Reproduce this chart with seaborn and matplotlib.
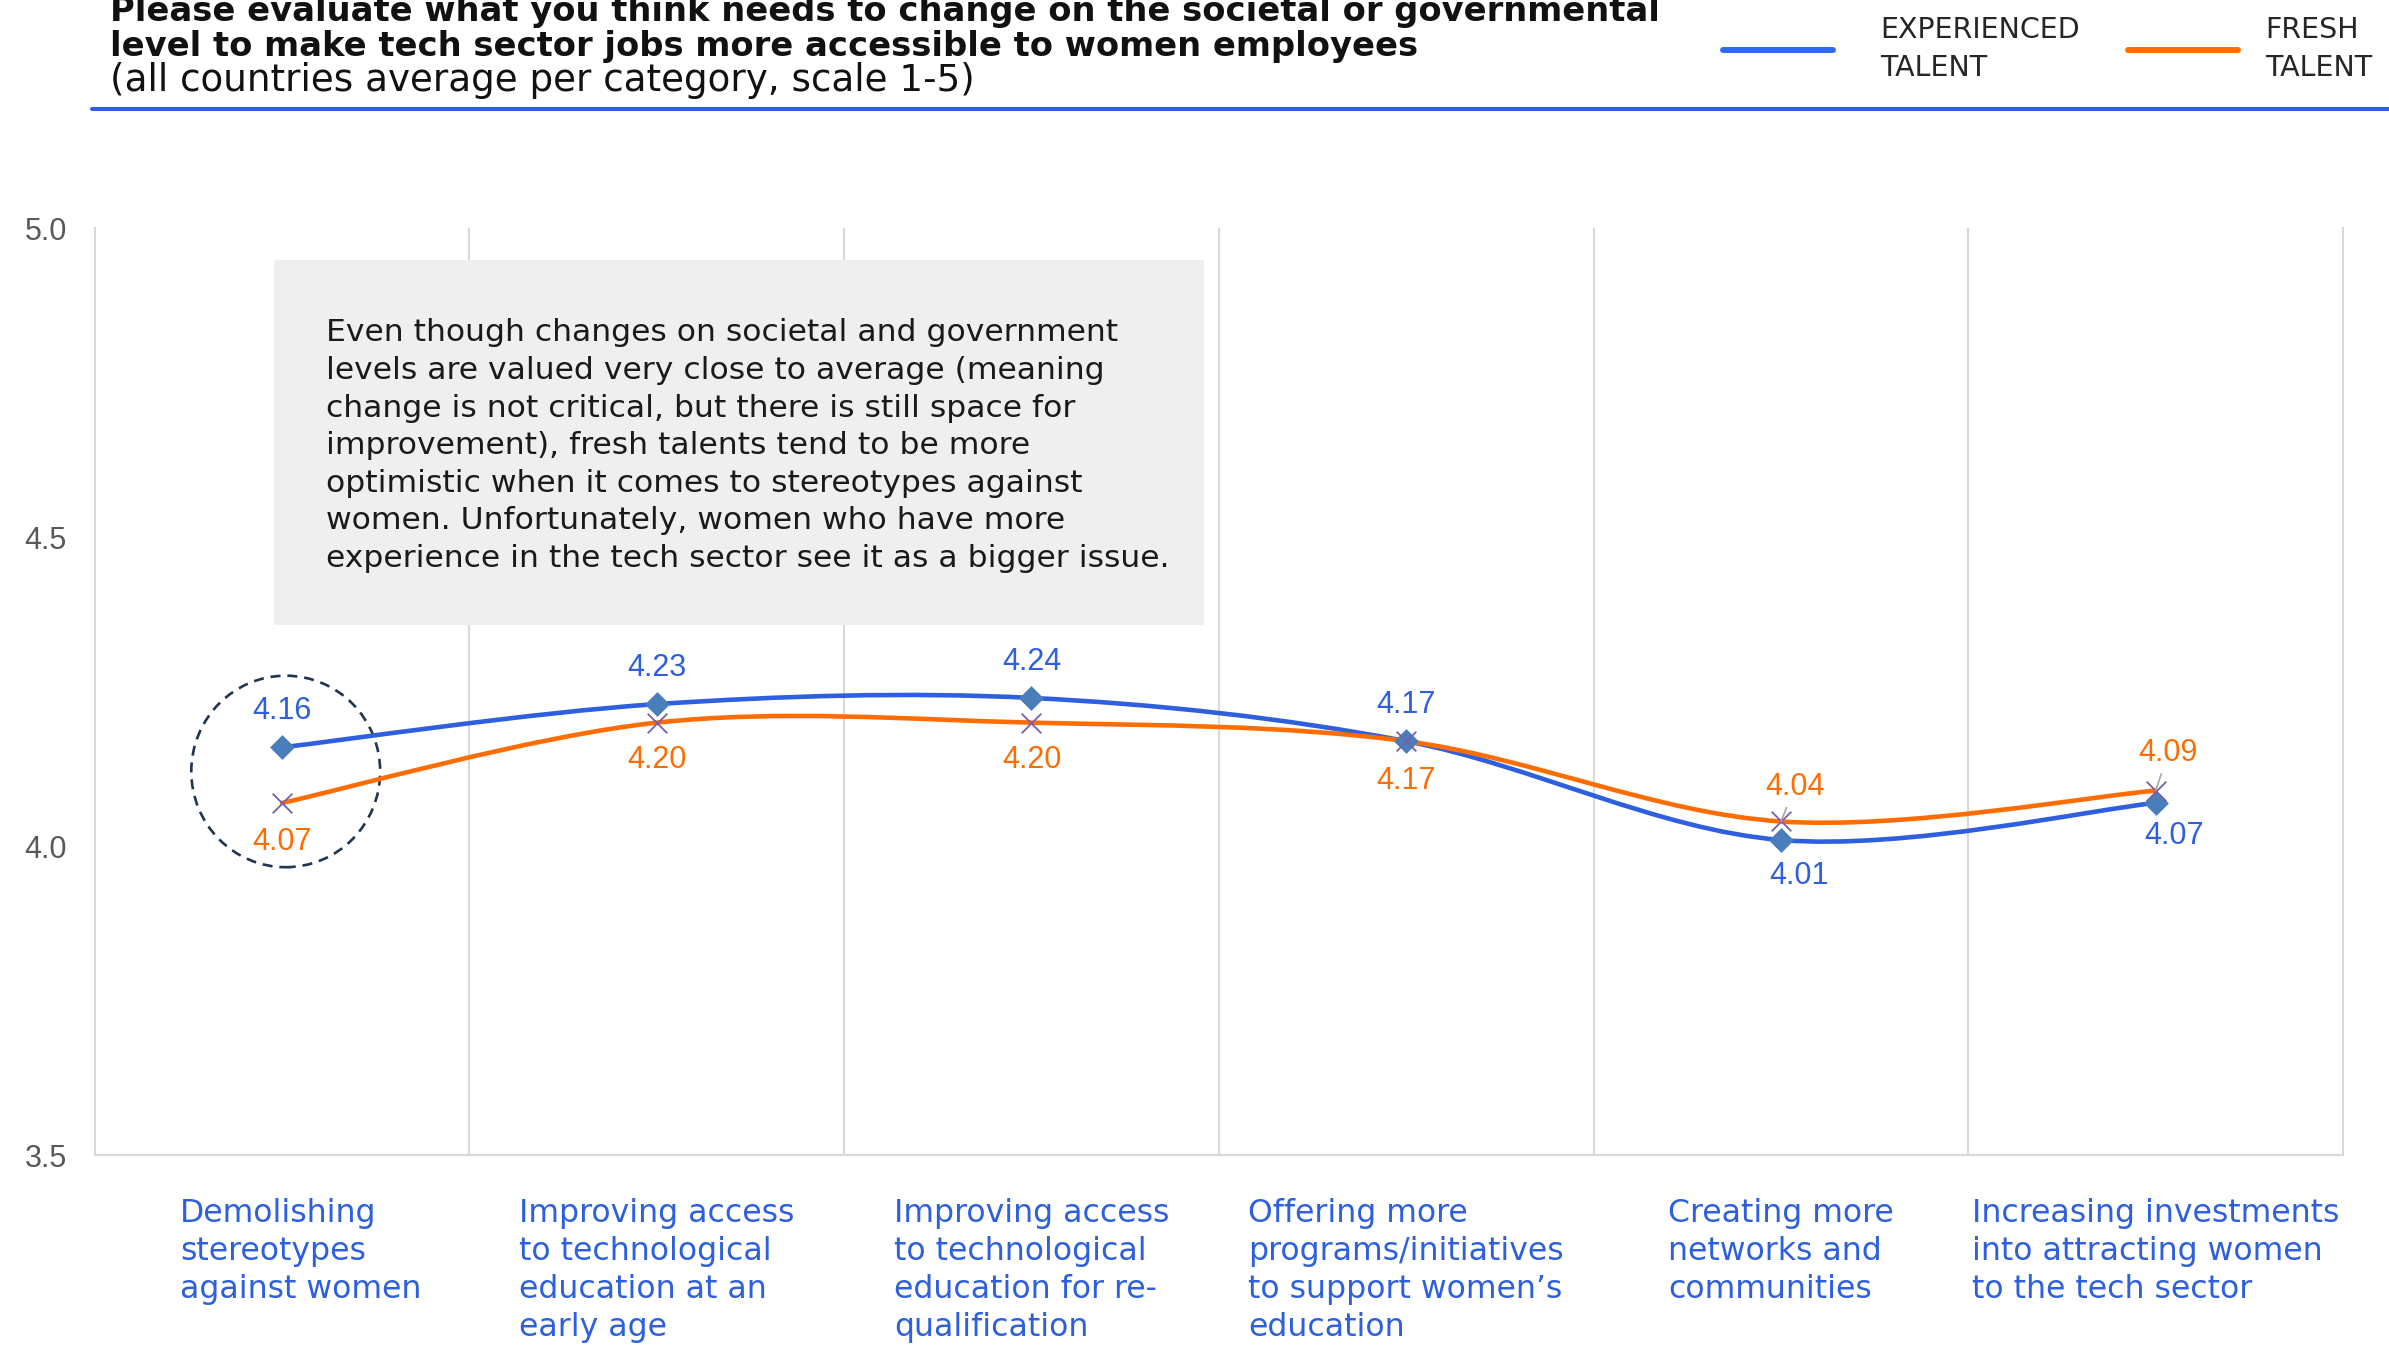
import numpy as np
import pandas as pd
import seaborn as sns
import matplotlib.pyplot as plt
import matplotlib.transforms as mtransforms
from matplotlib.path import Path
from matplotlib.patches import PathPatch, Rectangle, Ellipse
from matplotlib.lines import Line2D

# ---- data -------------------------------------------------------------
categories = [
    "Demolishing\nstereotypes\nagainst women",
    "Improving access\nto technological\neducation at an\nearly age",
    "Improving access\nto technological\neducation for re-\nqualification",
    "Offering more\nprograms/initiatives\nto support women\u2019s\neducation",
    "Creating more\nnetworks and\ncommunities",
    "Increasing investments\ninto attracting women\nto the tech sector",
]
experienced = [4.16, 4.23, 4.24, 4.17, 4.01, 4.07]
fresh = [4.07, 4.20, 4.20, 4.17, 4.04, 4.09]
y_ticks = [3.5, 4.0, 4.5, 5.0]
series_names = ["EXPERIENCED\nTALENT", "FRESH\nTALENT"]

title_lines = [
    "Please evaluate what you think needs to change on the societal or governmental",
    "level to make tech sector jobs more accessible to women employees",
]
subtitle = "(all countries average per category, scale 1-5)"
note = (
    "Even though changes on societal and government\n"
    "levels are valued very close to average (meaning\n"
    "change is not critical, but there is still space for\n"
    "improvement), fresh talents tend to be more\n"
    "optimistic when it comes to stereotypes against\n"
    "women. Unfortunately, women who have more\n"
    "experience in the tech sector see it as a bigger issue."
)

# label offsets (points) relative to each marker
exp_offsets = [(0, 26), (0, 26), (0, 26), (0, 26), (13, -26), (13, -24)]
fresh_offsets = [(0, -28), (0, -27), (0, -27), (0, -29), (10, 25), (9, 27)]
leader = [False, False, False, False, True, True]

# ---- style ------------------------------------------------------------
BLUE = "#2D5FDE"
LEGEND_BLUE = "#2E6BEB"
ORANGE = "#FF6D01"
DIAMOND = "#4A7EBB"
CROSS = "#7B5EA7"
GRID = "#D9D9D9"
TICK_GRAY = "#595959"
NUM_FONT = ["Liberation Sans", "DejaVu Sans"]

sns.set_theme(style="white")
plt.rcParams["font.family"] = ["DejaVu Sans"]

df = pd.DataFrame({
    "pos": np.arange(len(categories)),
    "experienced": experienced,
    "fresh": fresh,
})

fig = plt.figure(figsize=(23.89, 13.47), dpi=100)
ax = fig.add_axes([0.0396, 0.1425, 0.9412, 0.6879])


def smooth_path(xs, ys):
    """Cubic Bezier path through the points (smoothed line)."""
    pts = np.column_stack([xs, ys]).astype(float)
    n = len(pts)
    verts = [pts[0]]
    codes = [Path.MOVETO]
    for i in range(n - 1):
        p0 = pts[max(i - 1, 0)]
        p1 = pts[i]
        p2 = pts[i + 1]
        p3 = pts[min(i + 2, n - 1)]
        verts += [p1 + (p2 - p0) / 6.0, p2 - (p3 - p1) / 6.0, p2]
        codes += [Path.CURVE4] * 3
    return Path(verts, codes)


# smoothed lines
ax.add_patch(PathPatch(smooth_path(df["pos"], df["experienced"]), fill=False,
                       edgecolor=BLUE, lw=3.3, capstyle="round", zorder=3))
ax.add_patch(PathPatch(smooth_path(df["pos"], df["fresh"]), fill=False,
                       edgecolor=ORANGE, lw=3.3, capstyle="round", zorder=3))

# markers
sns.scatterplot(data=df, x="pos", y="experienced", marker="D", s=160,
                color=DIAMOND, linewidth=0, zorder=4, ax=ax, legend=False)
sns.scatterplot(data=df, x="pos", y="fresh", marker="x", s=200,
                color=CROSS, linewidth=1.3, zorder=5, ax=ax, legend=False)

# data labels
for i, v in enumerate(df["experienced"]):
    dx, dy = exp_offsets[i]
    ax.annotate(f"{v:.2f}", (i, v), xytext=(dx, dy), textcoords="offset points",
                ha="center", va="center", fontsize=22, color=BLUE,
                family=NUM_FONT, zorder=6)
for i, v in enumerate(df["fresh"]):
    dx, dy = fresh_offsets[i]
    kw = {}
    if leader[i]:
        kw["arrowprops"] = dict(arrowstyle="-", color="#A6A6A6", lw=1.2,
                                shrinkA=2, shrinkB=0)
    ax.annotate(f"{v:.2f}", (i, v), xytext=(dx, dy), textcoords="offset points",
                ha="center", va="center", fontsize=22, color=ORANGE,
                family=NUM_FONT, zorder=6, **kw)

# dashed highlight circle around the first category
ax.add_patch(Ellipse((0.01, 4.121), 0.504, 0.310, fill=False,
                     edgecolor="#1F3550", lw=1.9, ls=(0, (3.8, 2.6)), zorder=2))

# axes
ax.set_xlim(-0.5, len(categories) - 0.5)
ax.set_ylim(3.5, 5.0)
ax.set_xlabel("")
ax.set_ylabel("")
ax.set_xticks(df["pos"], categories, fontsize=22.7, color=BLUE,
              multialignment="left", linespacing=1.29)
ax.set_xticks(np.arange(0.5, len(categories) - 1, 1.0), minor=True)
ax.set_yticks(y_ticks, [f"{t:.1f}" for t in y_ticks])
for lab in ax.get_yticklabels():
    lab.set_family(NUM_FONT)
    lab.set_fontsize(22)
    lab.set_color(TICK_GRAY)
ax.tick_params(axis="x", which="both", length=0, pad=31)
ax.tick_params(axis="y", length=0, pad=20)
first = ax.get_xticklabels()[0]
first.set_transform(first.get_transform() +
                    mtransforms.ScaledTranslation(0.19, 0, fig.dpi_scale_trans))
ax.grid(False)
ax.grid(True, axis="x", which="minor", color=GRID, lw=1.5)
for side in ("left", "bottom", "right"):
    ax.spines[side].set_color(GRID)
    ax.spines[side].set_linewidth(1.5)
ax.spines["top"].set_visible(False)

# commentary box
ax.add_patch(Rectangle((0.0799, 0.5724), 0.4133, 0.3931, transform=ax.transAxes,
                       facecolor="#EFEFEF", edgecolor="none", zorder=1))
ax.text(0.103, 0.7656, note, transform=ax.transAxes, ha="left", va="center",
        fontsize=22.6, color="#1A1A1A", linespacing=1.375, zorder=2)

# title block
fig.text(0.046, 0.9844, title_lines[0], ha="left", va="baseline",
         fontsize=24.3, fontweight="bold", color="#111111")
fig.text(0.046, 0.9584, title_lines[1], ha="left", va="baseline",
         fontsize=24.3, fontweight="bold", color="#111111")
fig.text(0.046, 0.9324, subtitle, ha="left", va="baseline",
         fontsize=26.8, color="#111111")
fig.add_artist(Line2D([92 / 2389, 1.0], [1 - 109 / 1347] * 2,
                      color=BLUE, lw=2.9, transform=fig.transFigure))

# legend: one entry per series
legend_specs = [
    (series_names[0], LEGEND_BLUE, 1723, 1.65),
    (series_names[1], ORANGE, 2128, 0.95),
]
for name, color, x_px, pad in legend_specs:
    leg = fig.legend([Line2D([], [], color=color, lw=4.3)], [name],
                     loc="center left",
                     bbox_to_anchor=(x_px / 2389, 1 - 49 / 1347),
                     frameon=False, fontsize=20.5, handlelength=3.86,
                     handletextpad=pad, borderpad=0, borderaxespad=0)
    for t in leg.get_texts():
        t.set_linespacing(1.47)

fig.savefig("out.png", dpi=100)
